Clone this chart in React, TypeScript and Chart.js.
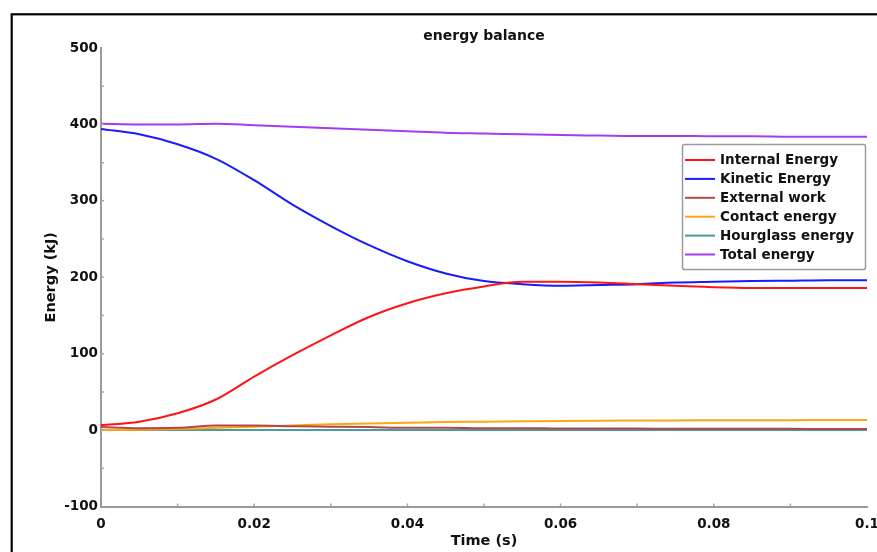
import React, { useEffect, useRef } from 'react';
import { Chart, registerables } from 'chart.js';

Chart.register(...registerables);

// ---- data ----
const TIME = [
  0, 0.005, 0.01, 0.015, 0.02, 0.025, 0.03, 0.035, 0.04, 0.045, 0.05,
  0.055, 0.06, 0.065, 0.07, 0.075, 0.08, 0.085, 0.09, 0.095, 0.1,
];
const INTERNAL_ENERGY = [
  6.5, 11, 22, 40, 70, 98, 124, 148, 166, 179, 188,
  194, 194, 193, 191, 189, 187, 186, 186, 186, 186,
];
const KINETIC_ENERGY = [
  394, 387, 374, 355, 327, 295, 267, 242, 221, 205, 195,
  191, 189, 190, 191, 193, 194, 195, 195.5, 196, 196,
];
const EXTERNAL_WORK = [
  4, 2.5, 3, 6, 6, 5, 4.5, 4, 3, 3, 2.5,
  2.5, 2, 2, 2, 1.8, 1.8, 1.6, 1.6, 1.5, 1.5,
];
const CONTACT_ENERGY = [
  0, 0.5, 1.5, 3, 4.5, 6, 7.5, 8.7, 9.7, 10.5, 11,
  11.5, 12, 12.3, 12.5, 12.7, 12.8, 13, 13, 13.2, 13.3,
];
const HOURGLASS_ENERGY = [
  0, 0, 0, 0.1, 0.1, 0.1, 0.2, 0.2, 0.2, 0.2, 0.2,
  0.2, 0.2, 0.2, 0.2, 0.2, 0.2, 0.2, 0.2, 0.2, 0.2,
];
const TOTAL_ENERGY = [
  401, 400, 400, 401, 399, 397, 395, 393, 391, 389, 388,
  387, 386, 385.5, 385, 385, 384.5, 384.5, 384, 384, 384,
];

const SERIES_LABELS = [
  'Internal Energy',
  'Kinetic Energy',
  'External work',
  'Contact energy',
  'Hourglass energy',
  'Total energy',
];
const SERIES_VALUES = [
  INTERNAL_ENERGY,
  KINETIC_ENERGY,
  EXTERNAL_WORK,
  CONTACT_ENERGY,
  HOURGLASS_ENERGY,
  TOTAL_ENERGY,
];
const SERIES_COLORS = ['#ff1414', '#1a1aff', '#b04848', '#ffa510', '#4a9c9c', '#a53cf2'];

const X_MIN = 0;
const X_MAX = 0.1;
const X_STEP = 0.02;
const Y_MIN = -100;
const Y_MAX = 500;
const Y_STEP = 100;
const X_MINOR_MARKS = [0.01, 0.02, 0.03, 0.04, 0.05, 0.06, 0.07, 0.08, 0.09];
const Y_MINOR_MARKS = [-50, 0, 50, 100, 150, 200, 250, 300, 350, 400, 450];

const FONT_FAMILY = '"DejaVu Sans", Verdana, sans-serif';

const decorPlugin = {
  id: 'decor',
  afterDraw(chart: any) {
    const ctx = chart.ctx as CanvasRenderingContext2D;
    const xs = chart.scales.x;
    const ys = chart.scales.y;
    const area = chart.chartArea;
    ctx.save();
    // inner tick marks
    ctx.strokeStyle = '#a8a8a8';
    ctx.lineWidth = 1.5;
    ctx.beginPath();
    for (const v of X_MINOR_MARKS) {
      const px = xs.getPixelForValue(v);
      ctx.moveTo(px, area.bottom);
      ctx.lineTo(px, area.bottom - 3);
    }
    for (const v of Y_MINOR_MARKS) {
      const py = ys.getPixelForValue(v);
      ctx.moveTo(area.left, py);
      ctx.lineTo(area.left + 3, py);
    }
    ctx.stroke();

    // legend box
    const bx = 682.5, by = 144.5, bw = 183, bh = 125;
    ctx.fillStyle = '#ffffff';
    ctx.strokeStyle = '#9a9a9a';
    ctx.lineWidth = 1.5;
    ctx.beginPath();
    (ctx as any).roundRect ? (ctx as any).roundRect(bx, by, bw, bh, 2) : ctx.rect(bx, by, bw, bh);
    ctx.fill();
    ctx.stroke();
    ctx.font = `bold 13.5px ${FONT_FAMILY}`;
    ctx.textBaseline = 'middle';
    ctx.textAlign = 'left';
    chart.data.datasets.forEach((ds: any, i: number) => {
      const y = 160 + i * 18.9;
      ctx.strokeStyle = ds.borderColor;
      ctx.lineWidth = 2;
      ctx.beginPath();
      ctx.moveTo(685, y);
      ctx.lineTo(715, y);
      ctx.stroke();
      ctx.fillStyle = '#111111';
      ctx.fillText(ds.label, 720, y + 0.5);
    });

    // outer black frame
    ctx.strokeStyle = '#000000';
    ctx.lineWidth = 2.2;
    ctx.strokeRect(11.7, 14.3, 2000, 2000);
    ctx.restore();
  },
};

export default function App() {
  const canvasRef = useRef<HTMLCanvasElement | null>(null);

  useEffect(() => {
    if (!canvasRef.current) return;
    const datasets = SERIES_LABELS.map((label, i) => ({
      label,
      data: TIME.map((t, j) => ({ x: t, y: SERIES_VALUES[i][j] })),
      borderColor: SERIES_COLORS[i],
      backgroundColor: SERIES_COLORS[i],
      borderWidth: 2,
      pointRadius: 0,
      cubicInterpolationMode: 'monotone' as const,
      fill: false,
    }));

    const chart = new Chart(canvasRef.current, {
      type: 'line',
      data: { datasets },
      options: {
        responsive: false,
        animation: false,
        devicePixelRatio: 1,
        layout: { padding: { top: 20, left: 0, right: 0, bottom: 0 } },
        plugins: {
          legend: { display: false },
          tooltip: { enabled: false },
          title: {
            display: true,
            fullSize: false,
            text: 'energy balance',
            color: '#111111',
            font: { family: FONT_FAMILY, size: 14, weight: 'bold' },
            padding: { top: 8, bottom: 3.2 },
          },
        },
        scales: {
          x: {
            type: 'linear',
            min: X_MIN,
            max: X_MAX,
            grid: { display: false, drawTicks: false },
            border: { display: true, color: '#9a9a9a', width: 2 },
            ticks: {
              stepSize: X_STEP,
              color: '#111111',
              font: { family: FONT_FAMILY, size: 13.5, weight: 'bold' },
              padding: 10,
              maxRotation: 0,
              autoSkip: false,
              callback: (v: any) => String(Number(Number(v).toFixed(4))),
            },
            title: {
              display: true,
              text: 'Time (s)',
              color: '#111111',
              font: { family: FONT_FAMILY, size: 14.5, weight: 'bold' },
              padding: { top: 2, bottom: 2.4 },
            },
            afterFit: (scale: any) => {
              scale.height = 45.5;
              scale.paddingLeft = 0;
              scale.paddingRight = 10;
            },
          },
          y: {
            type: 'linear',
            min: Y_MIN,
            max: Y_MAX,
            grid: { display: false, drawTicks: false },
            border: { display: true, color: '#9a9a9a', width: 2 },
            ticks: {
              stepSize: Y_STEP,
              color: '#111111',
              font: { family: FONT_FAMILY, size: 13.5, weight: 'bold' },
              padding: 3,
            },
            title: {
              display: true,
              text: 'Energy (kJ)',
              color: '#111111',
              font: { family: FONT_FAMILY, size: 14.5, weight: 'bold' },
              padding: { top: 43, bottom: 2 },
            },
            afterFit: (scale: any) => {
              scale.width = 101;
            },
          },
        },
      },
      plugins: [decorPlugin],
    });

    return () => chart.destroy();
  }, []);

  return (
    <div style={{ position: 'absolute', left: 0, top: 0, width: 877, height: 552, background: '#ffffff' }}>
      <canvas ref={canvasRef} width={877} height={552} style={{ display: 'block' }} />
    </div>
  );
}
